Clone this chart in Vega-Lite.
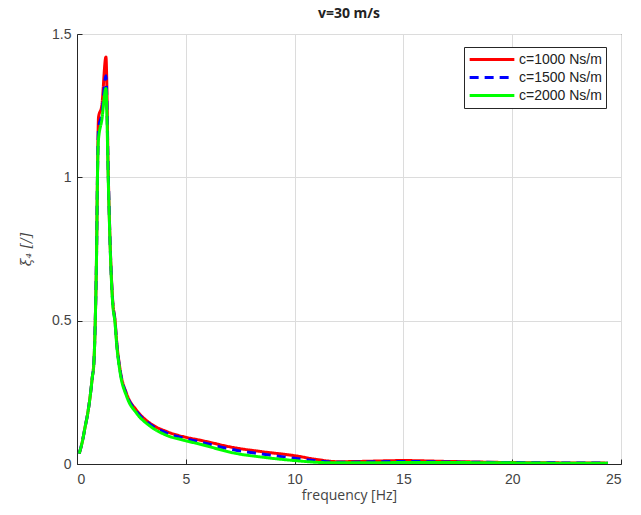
{
  "$schema": "https://vega.github.io/schema/vega-lite/v6.json",
  "autosize": {"type": "none"},
  "padding": {"left": 77, "top": 34, "right": 20, "bottom": 51},
  "width": 544,
  "height": 430,
  "background": "white",
  "title": {"text": "v=30 m/s", "fontSize": 14, "font": "Open Sans", "fontWeight": "bold", "color": "#222", "offset": 6},
  "config": {
    "view": {"stroke": "#262626", "strokeWidth": 1},
    "axis": {"gridColor": "#dcdcdc", "gridWidth": 1, "domainColor": "#262626", "tickColor": "#262626", "labelColor": "#444", "labelFont": "Liberation Sans", "labelFontSize": 14, "titleFont": "Open Sans", "titleFontWeight": "normal", "titleColor": "#444", "titleFontSize": 14}
  },
  "data": {"values": [
    {"f": 0.1, "v": 0.036, "c": "c=1000 Ns/m"},
    {"f": 0.25, "v": 0.08, "c": "c=1000 Ns/m"},
    {"f": 0.37, "v": 0.128, "c": "c=1000 Ns/m"},
    {"f": 0.5, "v": 0.18, "c": "c=1000 Ns/m"},
    {"f": 0.6, "v": 0.233, "c": "c=1000 Ns/m"},
    {"f": 0.7, "v": 0.3, "c": "c=1000 Ns/m"},
    {"f": 0.78, "v": 0.36, "c": "c=1000 Ns/m"},
    {"f": 0.84, "v": 0.5, "c": "c=1000 Ns/m"},
    {"f": 0.9, "v": 0.74, "c": "c=1000 Ns/m"},
    {"f": 0.94, "v": 1.0, "c": "c=1000 Ns/m"},
    {"f": 0.99, "v": 1.21, "c": "c=1000 Ns/m"},
    {"f": 1.14, "v": 1.25, "c": "c=1000 Ns/m"},
    {"f": 1.33, "v": 1.42, "c": "c=1000 Ns/m"},
    {"f": 1.44, "v": 1.0, "c": "c=1000 Ns/m"},
    {"f": 1.55, "v": 0.71, "c": "c=1000 Ns/m"},
    {"f": 1.64, "v": 0.57, "c": "c=1000 Ns/m"},
    {"f": 1.75, "v": 0.5, "c": "c=1000 Ns/m"},
    {"f": 1.82, "v": 0.43, "c": "c=1000 Ns/m"},
    {"f": 1.98, "v": 0.33, "c": "c=1000 Ns/m"},
    {"f": 2.28, "v": 0.245, "c": "c=1000 Ns/m"},
    {"f": 2.74, "v": 0.187, "c": "c=1000 Ns/m"},
    {"f": 3.36, "v": 0.142, "c": "c=1000 Ns/m"},
    {"f": 4.12, "v": 0.113, "c": "c=1000 Ns/m"},
    {"f": 4.9, "v": 0.095, "c": "c=1000 Ns/m"},
    {"f": 5.66, "v": 0.083, "c": "c=1000 Ns/m"},
    {"f": 7.3, "v": 0.056, "c": "c=1000 Ns/m"},
    {"f": 8.5, "v": 0.043, "c": "c=1000 Ns/m"},
    {"f": 10.0, "v": 0.029, "c": "c=1000 Ns/m"},
    {"f": 11.0, "v": 0.016, "c": "c=1000 Ns/m"},
    {"f": 12.0, "v": 0.008, "c": "c=1000 Ns/m"},
    {"f": 13.0, "v": 0.009, "c": "c=1000 Ns/m"},
    {"f": 15.0, "v": 0.012, "c": "c=1000 Ns/m"},
    {"f": 17.0, "v": 0.009, "c": "c=1000 Ns/m"},
    {"f": 20.0, "v": 0.005, "c": "c=1000 Ns/m"},
    {"f": 22.0, "v": 0.004, "c": "c=1000 Ns/m"},
    {"f": 24.4, "v": 0.003, "c": "c=1000 Ns/m"},

    {"f": 0.1, "v": 0.036, "c": "c=1500 Ns/m"},
    {"f": 0.25, "v": 0.08, "c": "c=1500 Ns/m"},
    {"f": 0.37, "v": 0.128, "c": "c=1500 Ns/m"},
    {"f": 0.5, "v": 0.18, "c": "c=1500 Ns/m"},
    {"f": 0.6, "v": 0.233, "c": "c=1500 Ns/m"},
    {"f": 0.7, "v": 0.3, "c": "c=1500 Ns/m"},
    {"f": 0.78, "v": 0.36, "c": "c=1500 Ns/m"},
    {"f": 0.84, "v": 0.5, "c": "c=1500 Ns/m"},
    {"f": 0.9, "v": 0.74, "c": "c=1500 Ns/m"},
    {"f": 0.94, "v": 1.0, "c": "c=1500 Ns/m"},
    {"f": 0.99, "v": 1.17, "c": "c=1500 Ns/m"},
    {"f": 1.14, "v": 1.22, "c": "c=1500 Ns/m"},
    {"f": 1.33, "v": 1.354, "c": "c=1500 Ns/m"},
    {"f": 1.44, "v": 1.0, "c": "c=1500 Ns/m"},
    {"f": 1.55, "v": 0.705, "c": "c=1500 Ns/m"},
    {"f": 1.64, "v": 0.565, "c": "c=1500 Ns/m"},
    {"f": 1.75, "v": 0.495, "c": "c=1500 Ns/m"},
    {"f": 1.82, "v": 0.425, "c": "c=1500 Ns/m"},
    {"f": 1.98, "v": 0.326, "c": "c=1500 Ns/m"},
    {"f": 2.28, "v": 0.241, "c": "c=1500 Ns/m"},
    {"f": 2.74, "v": 0.183, "c": "c=1500 Ns/m"},
    {"f": 3.36, "v": 0.138, "c": "c=1500 Ns/m"},
    {"f": 4.12, "v": 0.108, "c": "c=1500 Ns/m"},
    {"f": 4.9, "v": 0.09, "c": "c=1500 Ns/m"},
    {"f": 5.66, "v": 0.077, "c": "c=1500 Ns/m"},
    {"f": 7.3, "v": 0.048, "c": "c=1500 Ns/m"},
    {"f": 8.5, "v": 0.035, "c": "c=1500 Ns/m"},
    {"f": 10.0, "v": 0.02, "c": "c=1500 Ns/m"},
    {"f": 11.0, "v": 0.011, "c": "c=1500 Ns/m"},
    {"f": 12.0, "v": 0.006, "c": "c=1500 Ns/m"},
    {"f": 13.0, "v": 0.007, "c": "c=1500 Ns/m"},
    {"f": 15.0, "v": 0.009, "c": "c=1500 Ns/m"},
    {"f": 17.0, "v": 0.007, "c": "c=1500 Ns/m"},
    {"f": 20.0, "v": 0.005, "c": "c=1500 Ns/m"},
    {"f": 22.0, "v": 0.004, "c": "c=1500 Ns/m"},
    {"f": 24.4, "v": 0.003, "c": "c=1500 Ns/m"},

    {"f": 0.1, "v": 0.036, "c": "c=2000 Ns/m"},
    {"f": 0.25, "v": 0.08, "c": "c=2000 Ns/m"},
    {"f": 0.37, "v": 0.128, "c": "c=2000 Ns/m"},
    {"f": 0.5, "v": 0.18, "c": "c=2000 Ns/m"},
    {"f": 0.6, "v": 0.233, "c": "c=2000 Ns/m"},
    {"f": 0.7, "v": 0.3, "c": "c=2000 Ns/m"},
    {"f": 0.78, "v": 0.36, "c": "c=2000 Ns/m"},
    {"f": 0.84, "v": 0.5, "c": "c=2000 Ns/m"},
    {"f": 0.9, "v": 0.74, "c": "c=2000 Ns/m"},
    {"f": 0.94, "v": 1.0, "c": "c=2000 Ns/m"},
    {"f": 0.98, "v": 1.127, "c": "c=2000 Ns/m"},
    {"f": 1.14, "v": 1.2, "c": "c=2000 Ns/m"},
    {"f": 1.33, "v": 1.31, "c": "c=2000 Ns/m"},
    {"f": 1.44, "v": 0.98, "c": "c=2000 Ns/m"},
    {"f": 1.55, "v": 0.7, "c": "c=2000 Ns/m"},
    {"f": 1.64, "v": 0.56, "c": "c=2000 Ns/m"},
    {"f": 1.75, "v": 0.49, "c": "c=2000 Ns/m"},
    {"f": 1.82, "v": 0.42, "c": "c=2000 Ns/m"},
    {"f": 1.98, "v": 0.32, "c": "c=2000 Ns/m"},
    {"f": 2.28, "v": 0.236, "c": "c=2000 Ns/m"},
    {"f": 2.74, "v": 0.177, "c": "c=2000 Ns/m"},
    {"f": 3.36, "v": 0.132, "c": "c=2000 Ns/m"},
    {"f": 4.12, "v": 0.1, "c": "c=2000 Ns/m"},
    {"f": 4.9, "v": 0.083, "c": "c=2000 Ns/m"},
    {"f": 5.66, "v": 0.069, "c": "c=2000 Ns/m"},
    {"f": 7.3, "v": 0.037, "c": "c=2000 Ns/m"},
    {"f": 8.5, "v": 0.024, "c": "c=2000 Ns/m"},
    {"f": 10.0, "v": 0.012, "c": "c=2000 Ns/m"},
    {"f": 11.0, "v": 0.006, "c": "c=2000 Ns/m"},
    {"f": 12.0, "v": 0.004, "c": "c=2000 Ns/m"},
    {"f": 13.0, "v": 0.004, "c": "c=2000 Ns/m"},
    {"f": 15.0, "v": 0.005, "c": "c=2000 Ns/m"},
    {"f": 17.0, "v": 0.005, "c": "c=2000 Ns/m"},
    {"f": 20.0, "v": 0.004, "c": "c=2000 Ns/m"},
    {"f": 22.0, "v": 0.003, "c": "c=2000 Ns/m"},
    {"f": 24.4, "v": 0.003, "c": "c=2000 Ns/m"}
  ]},
  "mark": {"type": "line", "strokeWidth": 3, "clip": true, "interpolate": "monotone"},
  "encoding": {
    "x": {"field": "f", "type": "quantitative", "scale": {"domain": [0, 25], "nice": false, "zero": false},
          "axis": {"title": "frequency [Hz]", "values": [0, 5, 10, 15, 20, 25], "format": "~g", "tickSize": -5, "labelPadding": 13, "titlePadding": 2}},
    "y": {"field": "v", "type": "quantitative", "scale": {"domain": [0, 1.5], "nice": false},
          "axis": {"title": "ξ₄  [/]", "values": [0, 0.5, 1, 1.5], "format": "~g", "tickSize": -5, "labelPadding": 11, "titlePadding": 18, "titleFont": "DejaVu Serif", "titleFontStyle": "italic"}},
    "color": {"field": "c", "type": "nominal",
              "scale": {"domain": ["c=1000 Ns/m", "c=1500 Ns/m", "c=2000 Ns/m"], "range": ["#ff0000", "#0000ff", "#00ff00"]},
              "legend": {"title": null, "orient": "none", "legendX": 387, "legendY": 13, "fillColor": "white", "strokeColor": "#262626", "padding": 4, "symbolType": "stroke", "symbolSize": 2000, "symbolStrokeWidth": 3, "clipHeight": 17, "labelFontSize": 14, "labelFont": "Liberation Sans", "labelColor": "#222", "rowPadding": 1, "labelOffset": 3}},
    "strokeDash": {"field": "c", "type": "nominal",
              "scale": {"domain": ["c=1000 Ns/m", "c=1500 Ns/m", "c=2000 Ns/m"], "range": [[1, 0], [9, 6], [1, 0]]},
              "legend": null}
  }
}
